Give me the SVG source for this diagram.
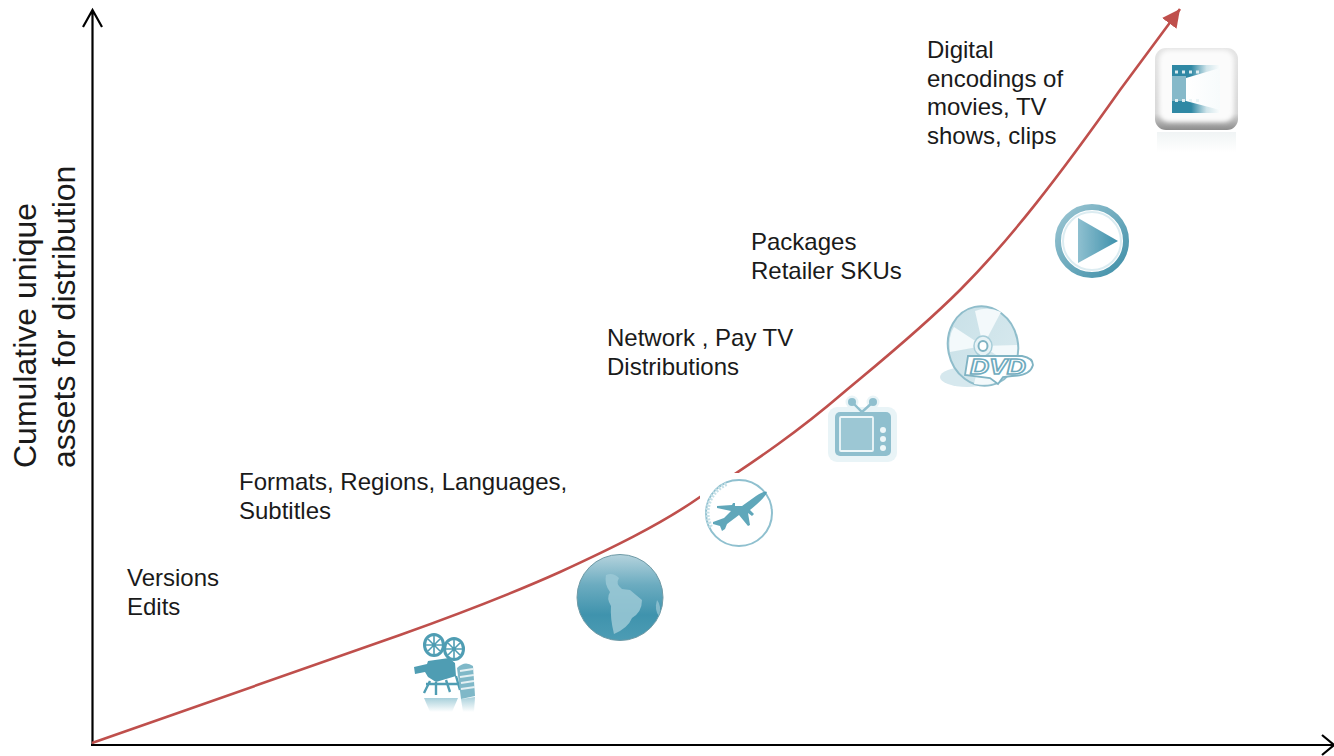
<svg xmlns="http://www.w3.org/2000/svg" width="1334" height="756" viewBox="0 0 1334 756">
<style>
.t{font-family:"Liberation Sans",Arial,sans-serif;font-size:24px;fill:#1a1a1a}
.y{font-family:"Liberation Sans",Arial,sans-serif;font-size:32px;fill:#1a1a1a}
.ax{fill:none;stroke:#000;stroke-width:2.2}
.teal{fill:#4f9db3}
.pale{fill:#8fbfce}
</style>
<defs>
<marker id="rh" markerUnits="userSpaceOnUse" markerWidth="20" markerHeight="20" refX="18" refY="10" orient="auto"><path d="M0 1 L18 10 L0 19 Z" fill="#bf4f4c"/></marker>
<linearGradient id="globe" x1="0" y1="0" x2="0" y2="1"><stop offset="0" stop-color="#b5d3dd"/><stop offset=".35" stop-color="#6cacc0"/><stop offset=".7" stop-color="#3f93ad"/><stop offset="1" stop-color="#4d9cb4"/></linearGradient>
<linearGradient id="btn" x1="0" y1="0" x2="0" y2="1"><stop offset="0" stop-color="#e4e4e4"/><stop offset=".8" stop-color="#d6d6d6"/><stop offset="1" stop-color="#8c8c8c"/></linearGradient>
<linearGradient id="film" x1="0" y1="0" x2="1" y2="0"><stop offset="0" stop-color="#2f88a4"/><stop offset=".4" stop-color="#2f88a4"/><stop offset=".72" stop-color="#cfe4ea"/><stop offset="1" stop-color="#fbfdfd"/></linearGradient>
<linearGradient id="fan" x1="0" y1="0" x2="1" y2="0"><stop offset="0" stop-color="#fff"/><stop offset="1" stop-color="#f7fbfc"/></linearGradient>
<linearGradient id="refl" x1="0" y1="0" x2="0" y2="1"><stop offset="0" stop-color="#f0f4f5"/><stop offset="1" stop-color="#fff"/></linearGradient>
<linearGradient id="fade" x1="0" y1="0" x2="0" y2="1"><stop offset="0" stop-color="#a8d0db"/><stop offset="1" stop-color="#fff"/></linearGradient>
<linearGradient id="play" x1="0" y1="0" x2="1" y2="1"><stop offset="0" stop-color="#9cc6d3"/><stop offset="1" stop-color="#3f8fa8"/></linearGradient>
<linearGradient id="tri" x1="0" y1="0" x2="1" y2="0"><stop offset="0" stop-color="#8fc0d0"/><stop offset="1" stop-color="#3d90ab"/></linearGradient>
<linearGradient id="disc" x1="0" y1="0" x2="1" y2="1"><stop offset="0" stop-color="#c8e0e7"/><stop offset="1" stop-color="#d9eaef"/></linearGradient>
<filter id="soft" x="-10%" y="-10%" width="120%" height="120%"><feGaussianBlur stdDeviation="0.7"/></filter>
<filter id="soft2" x="-20%" y="-20%" width="140%" height="140%"><feGaussianBlur stdDeviation="2"/></filter>
</defs>

<g id="connectors">
<path class="ax" d="M92.5 745 V10 M83 27 L92.5 10 L102 27"/>
<path class="ax" d="M91 745 H1334 M1322 735 L1334 745 L1322 755"/>
<path id="growth-curve" d="M92 743 C200 705 320 664 400 635 C470 610 520 590 560 572 C610 549 660 525 700 497 C760 458 800 430 843 393 C880 362 920 330 960 290 C1010 240 1060 175 1120 90 L1180 9" fill="none" stroke="#bf4f4c" stroke-width="2.6" marker-end="url(#rh)"/>
</g>

<g id="y-axis-label">
<text class="y" transform="translate(36 468) rotate(-90)">Cumulative unique</text>
<text class="y" transform="translate(75 468) rotate(-90)">assets for distribution</text>
</g>

<g id="node-versions">
<text class="t" x="127" y="586">Versions</text>
<text class="t" x="127" y="615">Edits</text>
<g filter="url(#soft)">
<path d="M424 698 L458 698 L452 712 L430 712 Z" fill="url(#fade)"/>
<path d="M461 699 L475 697 L474 712 L463 712 Z" fill="url(#fade)"/>
<ellipse cx="434" cy="645" rx="9.500" ry="10.500" fill="none" stroke="#4f9db3" stroke-width="3"/>
<ellipse cx="454" cy="649" rx="9.500" ry="10.500" fill="none" stroke="#4f9db3" stroke-width="3"/>
<path d="M434 636 V654 M425 645 H443 M428 639 L440 651 M440 639 L428 651 M454 640 V658 M445 649 H463 M448 643 L460 655 M460 643 L448 655" stroke="#4f9db3" stroke-width="1.6"/>
<path class="teal" d="M414 667 L427 664 L428 661 L449 658 L455 663 L456 676 L436 682 L428 677 L425 672 L415 674 Z"/>
<path d="M430 681 L424 693 M436 682 V695 M446 680 L450 692 M456 676 L460 690 M426 684 H458" stroke="#4f9db3" stroke-width="2.400" fill="none"/>
<path d="M457 668 Q465 660 473 666 L475 696 L461 699 Z" fill="#7fb8c8"/>
<path d="M460 671 L473 669 M460 677 L474 675 M461 683 L474 681 M461 689 L475 687" stroke="#e4f0f3" stroke-width="1.800"/>
</g>
</g>

<g id="node-formats">
<text class="t" x="239" y="490">Formats, Regions, Languages,</text>
<text class="t" x="239" y="519">Subtitles</text>
<circle cx="620" cy="597.500" r="43" fill="url(#globe)" stroke="#6f9aa6" stroke-width="1"/>
<g filter="url(#soft)">
<path d="M606 575 Q613 572 619 578 Q615 584 622 589 L630 590 L642 600 Q642 612 632 618 Q628 628 614 634 Q610 618 611 606 Q606 598 610 592 Q604 584 606 575 Z" fill="#9cc9d6" opacity=".85"/>
<path d="M657 600 Q662 606 659 616 Q654 610 657 600 Z" fill="#9cc9d6" opacity=".7"/>
</g>
</g>

<g id="node-distribution">
<text class="t" x="607" y="346">Network , Pay TV</text>
<text class="t" x="607" y="375">Distributions</text>
<rect x="700" y="473" width="78" height="80" fill="#fff"/>
<g filter="url(#soft)">
<circle cx="739" cy="513" r="33" fill="none" stroke="#8fc0cf" stroke-width="2"/>
<path d="M711 527 A31 31 0 0 1 727 484" fill="none" stroke="#c5e0e7" stroke-width="4" stroke-dasharray="2 1.500"/>
<path class="teal" opacity=".9" d="M767 492 Q766 497 750 510 L754 514 L752 516 L748 513 L750 525 L748 526 L739 515 L727 524 L725 529 L722 531 L720 526 L713 524 L713 522 L724 518 L731 511 L717 508 L717 506 L732 505 L733 503 L735 503 L735 506 L742 506 L756 496 Q765 490 767 492 Z"/>
</g>
</g>

<g id="node-tv">
<rect x="828" y="407" width="69" height="55" rx="9" fill="#e9f4f7"/>
<circle cx="852" cy="402" r="6.500" fill="#e9f4f7"/>
<circle cx="873" cy="402" r="6.500" fill="#e9f4f7"/>
<path d="M852 402 L862 412 L873 402" fill="none" stroke="#8fbfce" stroke-width="2.400"/>
<circle class="pale" cx="852" cy="402" r="4"/>
<circle class="pale" cx="873" cy="402" r="4"/>
<rect class="pale" x="835" y="412" width="56" height="44" rx="5"/>
<rect x="840" y="417" width="33" height="34" rx="1" fill="#9cc7d4" stroke="#eef7f9" stroke-width="1.800"/>
<circle cx="883" cy="430" r="3" fill="#eef7f9"/>
<circle cx="883" cy="439" r="3" fill="#eef7f9"/>
<circle cx="883" cy="448" r="3" fill="#eef7f9"/>
</g>

<g id="node-packages">
<text class="t" x="751" y="250">Packages</text>
<text class="t" x="751" y="279">Retailer SKUs</text>
<ellipse cx="967" cy="377" rx="27" ry="10" fill="#d6e8ee"/>
<ellipse cx="983" cy="346" rx="35" ry="40" transform="rotate(-12 983 346)" fill="url(#disc)" stroke="#8fbdcb" stroke-width="2"/>
<path d="M983 346 L975 311 Q988 306 1001 312 Z M983 346 L950 352 Q948 336 954 327 Z M983 346 L995 383 Q985 386 974 384 Z M983 346 L1017 345 Q1018 356 1012 366 Z" fill="#f3f9fb" filter="url(#soft)"/>
<ellipse cx="983" cy="346" rx="9" ry="10" fill="#e8f3f6" stroke="#a7cdd8" stroke-width="1.500"/>
<ellipse cx="983" cy="346" rx="4.500" ry="5" fill="#fff" stroke="#7fb3c3" stroke-width="2"/>
<path d="M968 356 H1022 Q1033 358 1033 365 Q1030 376 1012 376 L1003 377 L998 384 L990 378 L965 375 Z" fill="#fff" stroke="#7fb3c3" stroke-width="1.800"/>
<text x="998" y="374" text-anchor="middle" font-family="Liberation Sans,sans-serif" font-style="italic" font-weight="bold" font-size="22" textLength="56" lengthAdjust="spacingAndGlyphs" fill="#fff" stroke="#6eaabd" stroke-width="1.500">DVD</text>
</g>

<g id="node-play">
<g filter="url(#soft)">
<circle cx="1092" cy="241" r="34" fill="#fff" stroke="url(#play)" stroke-width="6"/>
<circle cx="1092" cy="241" r="29" fill="none" stroke="#dcecf1" stroke-width="2"/>
<path d="M1078 218 L1118 241 L1078 263 Z" fill="url(#tri)"/>
</g>
</g>

<g id="node-encodings">
<text class="t" x="927" y="58">Digital</text>
<text class="t" x="927" y="87">encodings of</text>
<text class="t" x="927" y="115">movies, TV</text>
<text class="t" x="927" y="144">shows, clips</text>
<rect x="1157" y="132" width="79" height="20" fill="url(#refl)" filter="url(#soft)"/>
<rect x="1155" y="48" width="83" height="82" rx="11" fill="url(#btn)"/>
<rect x="1159" y="50" width="75" height="72" rx="10" fill="#fbfbfb" filter="url(#soft2)"/>
<rect x="1172" y="65" width="48" height="48" fill="url(#film)"/>
<path d="M1186 78 L1220 68 V110 L1186 101 Z" fill="url(#fan)"/>
<rect x="1172" y="76" width="14" height="25" fill="#86b9c9"/>
<path d="M1175 72 H1202 M1175 100.500 H1202" stroke="#eaf4f6" stroke-width="3" stroke-dasharray="3 4" opacity=".9" filter="url(#soft)"/>
</g>
</svg>
